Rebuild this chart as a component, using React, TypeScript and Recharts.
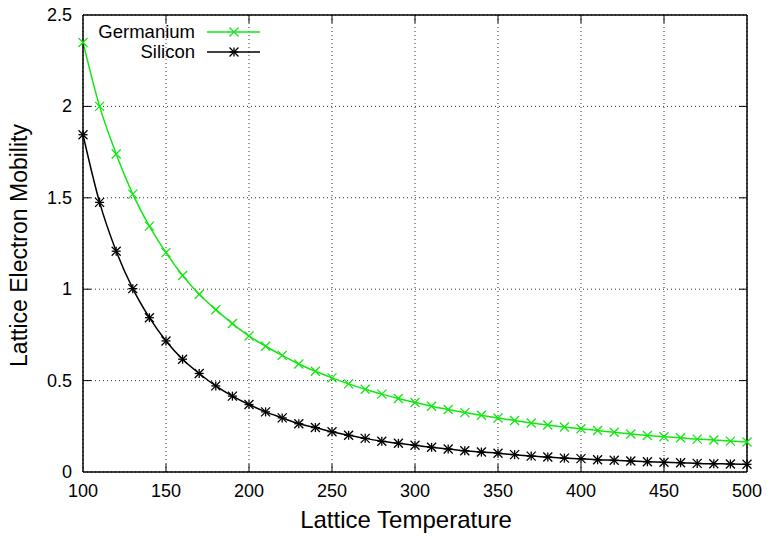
import React from "react";
import {
  LineChart,
  Line,
  XAxis,
  YAxis,
  CartesianGrid,
  ReferenceLine,
  Legend,
} from "recharts";

// lattice temperature, one point every 10
const temperatures = [
  100, 110, 120, 130, 140, 150, 160, 170, 180, 190, 200, 210, 220, 230, 240,
  250, 260, 270, 280, 290, 300, 310, 320, 330, 340, 350, 360, 370, 380, 390,
  400, 410, 420, 430, 440, 450, 460, 470, 480, 490, 500,
];

const germanium = [
  2.35, 2.0, 1.74, 1.52, 1.345, 1.2, 1.075, 0.972, 0.888, 0.812, 0.744, 0.688,
  0.638, 0.591, 0.551, 0.515, 0.482, 0.453, 0.426, 0.402, 0.38, 0.36, 0.342,
  0.325, 0.31, 0.295, 0.282, 0.268, 0.257, 0.246, 0.237, 0.227, 0.217, 0.208,
  0.2, 0.193, 0.187, 0.18, 0.175, 0.169, 0.164,
];

const silicon = [
  1.845, 1.475, 1.208, 1.003, 0.844, 0.717, 0.617, 0.539, 0.471, 0.415, 0.369,
  0.329, 0.296, 0.264, 0.243, 0.22, 0.201, 0.184, 0.168, 0.157, 0.146, 0.135,
  0.126, 0.116, 0.109, 0.103, 0.095, 0.087, 0.082, 0.076, 0.073, 0.067, 0.064,
  0.06, 0.056, 0.053, 0.051, 0.047, 0.045, 0.044, 0.042,
];

const xTicks = [100, 150, 200, 250, 300, 350, 400, 450, 500];
const yTicks = [0, 0.5, 1, 1.5, 2, 2.5];

const GREEN = "#14e614";
const FONT = "'Liberation Sans', Arial, Helvetica, sans-serif";

// plot box in page pixels
const W = 767;
const H = 536;
const TOP = 15;
const BOTTOM = 472;
const LEFT = 83;
const RIGHT = 747;

const data = temperatures.map((t, i) => ({
  t,
  ge: germanium[i],
  si: silicon[i],
}));

function Cross({ cx, cy, color, r = 4.5 }: any) {
  if (cx == null || cy == null) return null;
  return (
    <g stroke={color} strokeWidth={1.3}>
      <line x1={cx - r} y1={cy - r} x2={cx + r} y2={cy + r} />
      <line x1={cx - r} y1={cy + r} x2={cx + r} y2={cy - r} />
    </g>
  );
}

function Star({ cx, cy, color, r = 4.5 }: any) {
  if (cx == null || cy == null) return null;
  return (
    <g stroke={color} strokeWidth={1.3}>
      <line x1={cx - r} y1={cy - r} x2={cx + r} y2={cy + r} />
      <line x1={cx - r} y1={cy + r} x2={cx + r} y2={cy - r} />
      <line x1={cx - r} y1={cy} x2={cx + r} y2={cy} />
      <line x1={cx} y1={cy - r} x2={cx} y2={cy + r} />
    </g>
  );
}

// inward ticks on bottom and mirrored on top
function XTick({ x, y, payload }: any) {
  const edge = payload.value === 100 || payload.value === 500;
  return (
    <g>
      {!edge && (
        <>
          <line x1={x} y1={y} x2={x} y2={y - 8} stroke="#000" />
          <line x1={x} y1={TOP} x2={x} y2={TOP + 8} stroke="#000" />
        </>
      )}
      <text
        x={x}
        y={y + 25}
        textAnchor="middle"
        fontSize={18}
        fontFamily={FONT}
        fill="#000"
      >
        {payload.value}
      </text>
    </g>
  );
}

function YTick({ x, y, payload }: any) {
  const edge = payload.value === 0 || payload.value === 2.5;
  return (
    <g>
      {!edge && (
        <>
          <line x1={x} y1={y} x2={x + 8} y2={y} stroke="#000" />
          <line x1={RIGHT} y1={y} x2={RIGHT - 8} y2={y} stroke="#000" />
        </>
      )}
      <text
        x={x - 11}
        y={y + 6}
        textAnchor="end"
        fontSize={18}
        fontFamily={FONT}
        fill="#000"
      >
        {payload.value}
      </text>
    </g>
  );
}

function KeyBox() {
  const rows = [
    { name: "Germanium", color: GREEN, Mark: Cross, y: 32 },
    { name: "Silicon", color: "#000", Mark: Star, y: 52 },
  ];
  return (
    <svg width={280} height={70}>
      {rows.map((r) => (
        <g key={r.name}>
          <text
            x={195}
            y={r.y + 6}
            textAnchor="end"
            fontSize={18.5}
            fontFamily={FONT}
            fill="#000"
          >
            {r.name}
          </text>
          <line x1={207} y1={r.y} x2={260} y2={r.y} stroke={r.color} strokeWidth={1.5} />
          <r.Mark cx={234} cy={r.y} color={r.color} />
        </g>
      ))}
    </svg>
  );
}

export default function App() {
  return (
    <div style={{ position: "absolute", left: 0, top: 0, width: W, height: H, background: "#fff" }}>
      <LineChart
        width={W}
        height={H}
        data={data}
        margin={{ top: TOP, right: W - RIGHT, bottom: 0, left: 0 }}
      >
        <CartesianGrid stroke="#333" strokeDasharray="1 3" />
        <XAxis
          dataKey="t"
          type="number"
          domain={[100, 500]}
          ticks={xTicks}
          height={H - BOTTOM}
          tickSize={0}
          tickMargin={0}
          tick={<XTick />}
          axisLine={{ stroke: "#000", strokeWidth: 1.5 }}
          tickLine={false}
          label={{
            value: "Lattice Temperature",
            position: "insideBottom",
            offset: 8,
            dx: -9,
            fontSize: 24,
            fontFamily: FONT,
            fill: "#000",
          }}
        />
        <YAxis
          type="number"
          domain={[0, 2.5]}
          ticks={yTicks}
          width={LEFT}
          tickSize={0}
          tickMargin={0}
          tick={<YTick />}
          axisLine={{ stroke: "#000", strokeWidth: 1.5 }}
          tickLine={false}
          label={{
            value: "Lattice Electron Mobility",
            angle: -90,
            position: "insideLeft",
            offset: 0,
            dx: 19,
            dy: 2,
            style: { textAnchor: "middle" },
            fontSize: 23,
            fontFamily: FONT,
            fill: "#000",
          }}
        />
        <ReferenceLine y={2.5} stroke="#000" strokeWidth={1.5} />
        <ReferenceLine x={500} stroke="#000" strokeWidth={1.5} />
        <Legend
          layout="vertical"
          align="center"
          verticalAlign="middle"
          content={() => <KeyBox />}
          wrapperStyle={{ top: 0, left: 0, width: 280, height: 70 }}
        />
        <Line
          type="monotone"
          dataKey="ge"
          stroke={GREEN}
          strokeWidth={1.5}
          dot={(p: any) => <Cross key={`ge-${p.index}`} cx={p.cx} cy={p.cy} color={GREEN} />}
          activeDot={false}
          isAnimationActive={false}
        />
        <Line
          type="monotone"
          dataKey="si"
          stroke="#000"
          strokeWidth={1.5}
          dot={(p: any) => <Star key={`si-${p.index}`} cx={p.cx} cy={p.cy} color="#000" />}
          activeDot={false}
          isAnimationActive={false}
        />
      </LineChart>
    </div>
  );
}
